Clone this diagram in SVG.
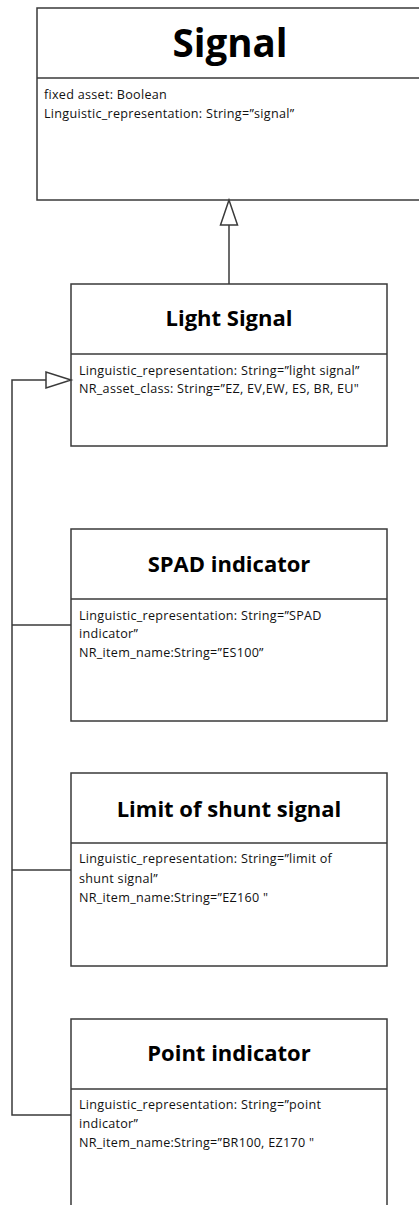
<svg xmlns="http://www.w3.org/2000/svg" width="419" height="1205" viewBox="0 0 419 1205">
<style>
.box{fill:#fff;stroke:#3a3a3a;stroke-width:1.5}
.div{stroke:#3a3a3a;stroke-width:1.5}
.title{font-family:"Open Sans","Liberation Sans",sans-serif;font-weight:bold;fill:#000;text-anchor:middle}
.attr{font-family:"Open Sans","Liberation Sans",sans-serif;font-size:12.6px;letter-spacing:0.28px;fill:#111}
.conn{fill:none;stroke:#3a3a3a;stroke-width:1.5}
.head{fill:#fff;stroke:#3a3a3a;stroke-width:1.5}
</style>
<rect width="419" height="1205" fill="#fff"/>
<g id="signal">
<rect class="box" x="37" y="8" width="400" height="192"/>
<line class="div" x1="37" y1="78" x2="419" y2="78"/>
<text class="title" x="230" y="57" font-size="38.5">Signal</text>
<text class="attr" x="44" y="99">fixed asset: Boolean</text>
<text class="attr" x="44" y="118">Linguistic_representation: String=”signal”</text>
</g>
<g id="light-signal">
<rect class="box" x="71" y="284" width="316" height="162"/>
<line class="div" x1="71" y1="354" x2="387" y2="354"/>
<text class="title" x="229" y="326" font-size="22">Light Signal</text>
<text class="attr" x="79" y="375">Linguistic_representation: String=”light signal”</text>
<text class="attr" x="79" y="393">NR_asset_class: String=”EZ, EV,EW, ES, BR, EU"</text>
</g>
<g id="spad-indicator">
<rect class="box" x="71" y="529" width="316" height="192"/>
<line class="div" x1="71" y1="599" x2="387" y2="599"/>
<text class="title" x="229" y="572" font-size="22">SPAD indicator</text>
<text class="attr" x="79" y="620">Linguistic_representation: String=”SPAD</text>
<text class="attr" x="79" y="638">indicator”</text>
<text class="attr" x="79" y="657">NR_item_name:String=”ES100”</text>
</g>
<g id="limit-of-shunt-signal">
<rect class="box" x="71" y="773" width="316" height="193"/>
<line class="div" x1="71" y1="843" x2="387" y2="843"/>
<text class="title" x="229" y="817" font-size="22">Limit of shunt signal</text>
<text class="attr" x="79" y="863">Linguistic_representation: String=”limit of</text>
<text class="attr" x="79" y="883">shunt signal”</text>
<text class="attr" x="79" y="902">NR_item_name:String=”EZ160 "</text>
</g>
<g id="point-indicator">
<rect class="box" x="71" y="1019" width="316" height="200"/>
<line class="div" x1="71" y1="1089" x2="387" y2="1089"/>
<text class="title" x="229" y="1061" font-size="22">Point indicator</text>
<text class="attr" x="79" y="1109">Linguistic_representation: String=”point</text>
<text class="attr" x="79" y="1128">indicator”</text>
<text class="attr" x="79" y="1147">NR_item_name:String=”BR100, EZ170 "</text>
</g>
<g id="connectors">
<line class="conn" x1="229" y1="284" x2="229" y2="225"/>
<polygon class="head" points="229,200 220.5,225 237.5,225"/>
<polyline class="conn" points="46,380 12,380 12,1115 71,1115"/>
<line class="conn" x1="12" y1="625" x2="71" y2="625"/>
<line class="conn" x1="12" y1="870" x2="71" y2="870"/>
<polygon class="head" points="71,380 46,372 46,388"/>
</g>
</svg>
